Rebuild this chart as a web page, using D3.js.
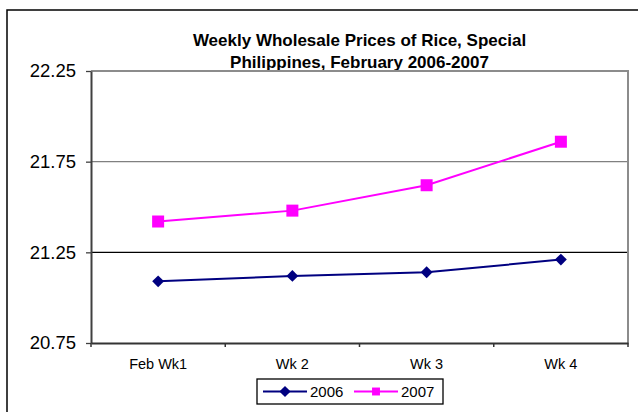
<!DOCTYPE html>
<html>
<head>
<meta charset="utf-8">
<script src="https://cdn.jsdelivr.net/npm/d3@7"></script>
<style>
  body { margin: 0; background: #fff; }
  svg { display: block; font-family: Arial, "Liberation Sans", sans-serif; }
</style>
</head>
<body>
<div id="viz"></div>
<script>
// data
var weeks = ["Feb Wk1", "Wk 2", "Wk 3", "Wk 4"];
var series2006 = [21.09, 21.12, 21.14, 21.21];
var series2007 = [21.42, 21.48, 21.62, 21.86];
var yTicks = [20.75, 21.25, 21.75, 22.25];
var titleLines = ["Weekly Wholesale Prices of Rice, Special", "Philippines, February 2006-2007"];

var W = 638, H = 412;
var margin = {top: 71, right: 10, bottom: 69, left: 91};
var width = W - margin.left - margin.right,
    height = H - margin.top - margin.bottom;

var svg = d3.select("#viz").append("svg")
  .attr("width", W)
  .attr("height", H);

// outer chart border (runs off the right and bottom edges)
svg.append("rect")
  .attr("x", 7).attr("y", 10)
  .attr("width", W + 10).attr("height", H + 10)
  .attr("fill", "none").attr("stroke", "#000").attr("stroke-width", 1.5);

// title
svg.append("g").selectAll("text")
  .data(titleLines)
  .enter().append("text")
    .attr("x", margin.left + width / 2)
    .attr("y", function(d, i) { return 45.5 + i * 22; })
    .attr("text-anchor", "middle")
    .style("font-weight", "bold")
    .style("font-size", "17px")
    .text(function(d) { return d; });

var g = svg.append("g")
  .attr("transform", "translate(" + margin.left + "," + margin.top + ")");

var x = d3.scaleBand().domain(weeks).range([0, width]);
var y = d3.scaleLinear().domain([20.75, 22.25]).range([height, 0]);

// gridlines
g.append("g").selectAll("line")
  .data([21.25, 21.75])
  .enter().append("line")
    .attr("x1", 0).attr("x2", width)
    .attr("y1", function(d) { return y(d); })
    .attr("y2", function(d) { return y(d); })
    .attr("stroke", function(d) { return d == 21.25 ? "#000" : "#808080"; })
    .attr("stroke-width", 1.3);

// plot area top & right border
g.append("path")
  .attr("d", "M0," + y(22.25) + "H" + width + "V" + height)
  .attr("fill", "none").attr("stroke", "#8c8c8c").attr("stroke-width", 2);

// y axis
var yAxis = g.append("g")
  .call(d3.axisLeft(y).tickValues(yTicks).tickFormat(d3.format(".2f")).tickSize(5).tickSizeOuter(0).tickPadding(10));
yAxis.select(".domain").attr("stroke", "#404040").attr("stroke-width", 2);
yAxis.selectAll(".tick line").attr("stroke", "#404040").attr("stroke-width", 1.3);
yAxis.selectAll("text").style("font-size", "18.5px").attr("fill", "#000").style("font-family", "Arial, 'Liberation Sans', sans-serif");

// x axis
var xAxis = g.append("g")
  .attr("transform", "translate(0," + height + ")")
  .call(d3.axisBottom(x).tickSize(0).tickPadding(16));
xAxis.select(".domain").attr("stroke", "#333").attr("stroke-width", 2);
xAxis.selectAll("text").style("font-size", "14.5px").attr("fill", "#000").style("font-family", "Arial, 'Liberation Sans', sans-serif");

// x tick marks sit on the band edges
g.append("g").selectAll("line")
  .data(weeks.concat(["end"]))
  .enter().append("line")
    .attr("x1", function(d, i) { return i * x.bandwidth(); })
    .attr("x2", function(d, i) { return i * x.bandwidth(); })
    .attr("y1", height).attr("y2", height + 4)
    .attr("stroke", "#333").attr("stroke-width", 1.5);

var line = d3.line()
  .x(function(d, i) { return x(weeks[i]) + x.bandwidth() / 2; })
  .y(function(d) { return y(d); });

// 2006 series - navy with diamonds
g.append("path").datum(series2006)
  .attr("d", line).attr("fill", "none")
  .attr("stroke", "#000080").attr("stroke-width", 2);
g.append("g").selectAll("path")
  .data(series2006)
  .enter().append("path")
    .attr("d", d3.symbol().type(d3.symbolDiamond2).size(90))
    .attr("transform", function(d, i) { return "translate(" + (x(weeks[i]) + x.bandwidth() / 2) + "," + y(d) + ")"; })
    .attr("fill", "#000080");

// 2007 series - magenta with squares
g.append("path").datum(series2007)
  .attr("d", line).attr("fill", "none")
  .attr("stroke", "#ff00ff").attr("stroke-width", 2);
g.append("g").selectAll("rect")
  .data(series2007)
  .enter().append("rect")
    .attr("x", function(d, i) { return x(weeks[i]) + x.bandwidth() / 2 - 6; })
    .attr("y", function(d) { return y(d) - 6; })
    .attr("width", 12).attr("height", 12)
    .attr("fill", "#ff00ff");

// legend
var legend = svg.append("g").attr("transform", "translate(257,379)");
legend.append("rect")
  .attr("width", 186).attr("height", 25)
  .attr("fill", "#fff").attr("stroke", "#000").attr("stroke-width", 1.3);

var legItems = [
  {name: "2006", color: "#000080", shape: "diamond"},
  {name: "2007", color: "#ff00ff", shape: "square"}
];
var li = legend.selectAll(".item")
  .data(legItems)
  .enter().append("g")
    .attr("transform", function(d, i) { return "translate(" + (6 + i * 91) + ",0)"; });
li.append("line")
  .attr("x1", 0).attr("x2", 44).attr("y1", 12.5).attr("y2", 12.5)
  .attr("stroke", function(d) { return d.color; }).attr("stroke-width", 2);
li.append("path")
  .attr("d", function(d) {
    return d.shape == "diamond"
      ? d3.symbol().type(d3.symbolDiamond2).size(80)()
      : d3.symbol().type(d3.symbolSquare2).size(80)();
  })
  .attr("transform", "translate(22,12.5)")
  .attr("fill", function(d) { return d.color; });
li.append("text")
  .attr("x", 47).attr("y", 18)
  .style("font-size", "15px")
  .text(function(d) { return d.name; });
</script>
</body>
</html>
